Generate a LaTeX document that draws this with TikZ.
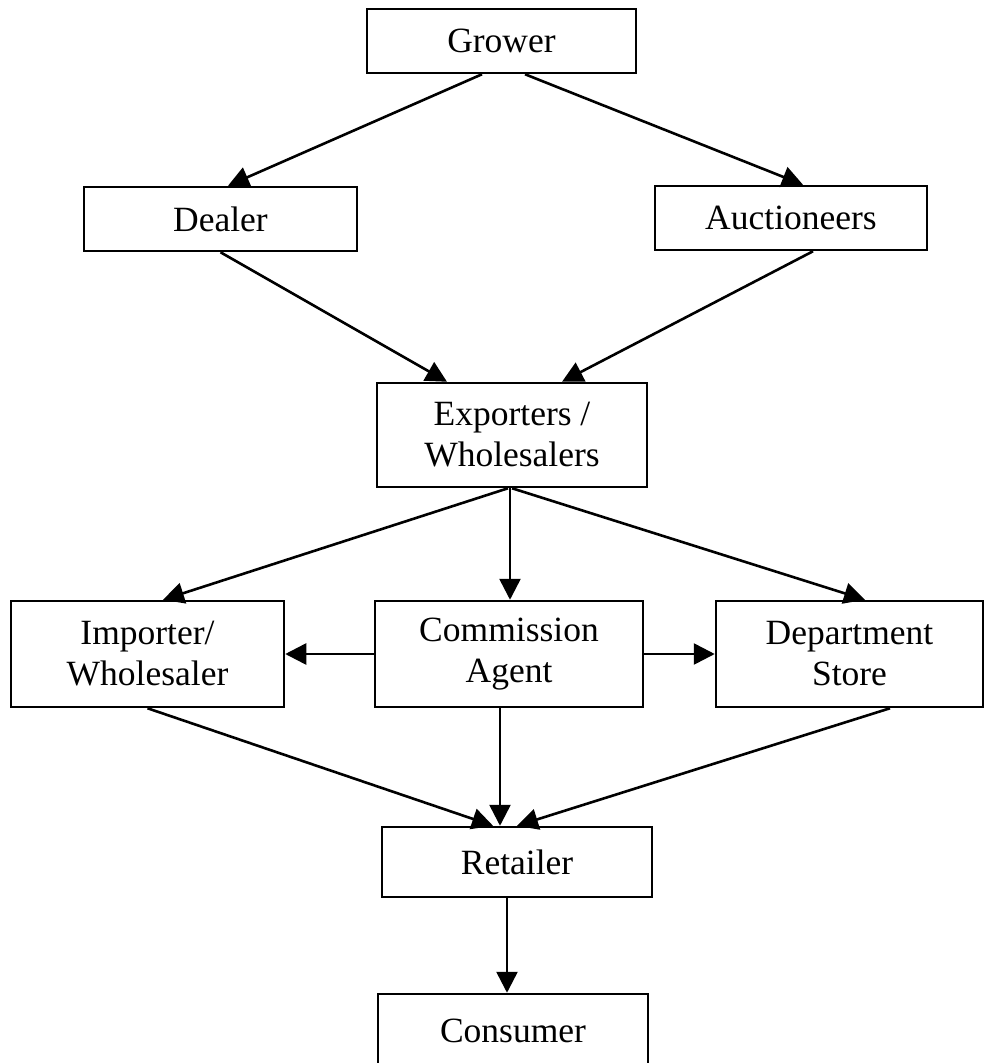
\documentclass[tikz,border=0pt]{standalone}
\usepackage{fontspec}
\setmainfont{Liberation Serif}
\usetikzlibrary{arrows.meta,calc}
\begin{document}
\begin{tikzpicture}[x=1pt,y=-1pt,
  box/.style={draw=black,line width=2.5pt,inner sep=0pt,align=center,
    font=\fontsize{35.5}{41}\selectfont},
  arr/.style={line width=2.6pt,-{Triangle[length=21pt,width=21pt]}}]
\useasboundingbox (0,0) rectangle (985,1063);
\node[box,minimum width=269pt,minimum height=64pt] (grower) at (501.5,41) {Grower};
\node[box,minimum width=273pt,minimum height=64pt] (dealer) at (220.5,219) {Dealer};
\node[box,minimum width=272pt,minimum height=64pt] (auct) at (791,218) {Auctioneers};
\node[box,minimum width=270pt,minimum height=104pt] (exp) at (512,435) {Exporters /\\Wholesalers};
\node[box,minimum width=273pt,minimum height=106pt] (imp) at (147.5,654) {Importer/\\Wholesaler};
\node[box,minimum width=268pt,minimum height=106pt] (comm) at (509,654) {Commission\\Agent};
\node[box,minimum width=267pt,minimum height=106pt] (dept) at (849.5,654) {Department\\Store};
\node[box,minimum width=270pt,minimum height=70pt] (ret) at (517,862) {Retailer};
\node[box,minimum width=270pt,minimum height=74pt] (cons) at (513,1031) {Consumer};
\draw[arr] ([xshift=-19.5pt]grower.south) -- ([xshift=7.5pt]dealer.north);
\draw[arr] ([xshift=23.5pt]grower.south) -- ([xshift=12pt]auct.north);
\draw[arr] (dealer.south) -- ([xshift=-65pt]exp.north);
\draw[arr] ([xshift=22pt]auct.south) -- ([xshift=50pt]exp.north);
\draw[arr] ([xshift=-4pt]exp.south) -- ([xshift=15.5pt]imp.north);
\draw[arr] ([xshift=-2pt]exp.south) -- ([xshift=-2pt]exp.south |- comm.north);
\draw[arr] (exp.south) -- ([xshift=15.5pt]dept.north);
\draw[arr] (comm.west) -- (imp.east);
\draw[arr] (comm.east) -- (dept.west);
\draw[arr] (imp.south) -- ([xshift=-24pt]ret.north);
\draw[arr] ([xshift=-9pt]comm.south) -- ([xshift=-9pt]comm.south |- ret.north);
\draw[arr] ([xshift=40.5pt]dept.south) -- (ret.north);
\draw[arr] ([xshift=-10pt]ret.south) -- ([xshift=-10pt]ret.south |- cons.north);
\end{tikzpicture}
\end{document}
